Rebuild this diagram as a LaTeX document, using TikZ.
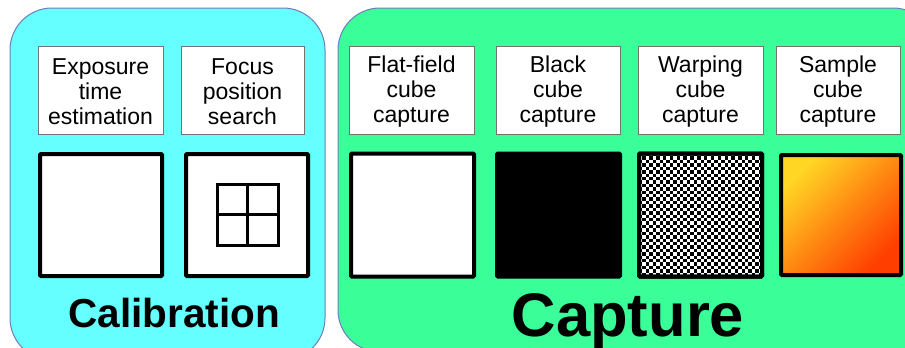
\documentclass[tikz,border=0pt]{standalone}
\usepackage{fontspec}
\setmainfont{Liberation Sans}
\definecolor{calibcyan}{RGB}{102,255,255}
\definecolor{capgreen}{RGB}{58,255,152}
\definecolor{panelline}{RGB}{110,125,190}
\definecolor{sampleA}{RGB}{255,214,36}
\definecolor{sampleB}{RGB}{255,150,12}
\definecolor{sampleC}{RGB}{255,62,0}
\begin{document}
\begin{tikzpicture}[x=1pt,y=-1pt,
  panel/.style={draw=panelline, line width=1pt, rounded corners=42pt},
  labelbox/.style={draw=black!55, line width=0.8pt, fill=white, minimum height=88pt,
    inner sep=0pt, align=center},
  labeltext/.style={align=center, inner sep=0pt, font=\fontsize{23}{25}\selectfont},
  frame/.style={draw=black, line width=4pt, minimum size=122pt, inner sep=0pt, rounded corners=1pt},
  title/.style={anchor=base, font=\bfseries}
]
\useasboundingbox (0,0) rectangle (905,348);
\clip (0,0) rectangle (905,348);
\fill[white] (0,0) rectangle (905,348);

% the two stage panels
\draw[panel, fill=calibcyan] (10,8) rectangle (325,360);
\draw[panel, fill=capgreen] (338,8) rectangle (935,352);

% step labels
\node[labelbox, minimum width=125pt] (lexp) at (100.5,90) {};
\node[labelbox, minimum width=123pt] (lfoc) at (242.5,90) {};
\node[labelbox, minimum width=125pt] (lflat) at (411.5,90) {};
\node[labelbox, minimum width=124pt] (lblack) at (558,90) {};
\node[labelbox, minimum width=125pt] (lwarp) at (700.5,90) {};
\node[labelbox, minimum width=124pt] (lsamp) at (838,90) {};
\foreach \lbl/\txt in {lexp/{Exposure\\time\\estimation}, lfoc/{Focus\\position\\search},
    lflat/{Flat-field\\cube\\capture}, lblack/{Black\\cube\\capture},
    lwarp/{Warping\\cube\\capture}, lsamp/{Sample\\cube\\capture}}
  \node[labeltext] (t\lbl) at ([yshift=-2pt]\lbl.center) {\txt};

% image frames
\node[frame, fill=white] (fexp) at (101,215) {};
\node[frame, fill=white] (ffoc) at (247,215) {};
\node[frame, fill=white, minimum size=123pt] (fflat) at (412.5,215) {};
\node[frame, fill=black, minimum size=123pt] (fblack) at (558.5,215) {};
\node[frame, fill=white, minimum size=123pt] (fwarp) at (700.5,215) {};
\node[frame, minimum size=120pt, left color=sampleA, middle color=sampleB,
  right color=sampleC, shading angle=45] (fsamp) at (841,215) {};

% focus grid
\draw[line width=3pt] (217,184) rectangle (278,245);
\draw[line width=3pt] (247.5,184) -- (247.5,245) (217,214.5) -- (278,214.5);

% checkerboard target
\begin{scope}
  \clip ([shift={(2,2)}]fwarp.north west) rectangle ([shift={(-2,-2)}]fwarp.south east);
  \foreach \i in {0,...,35} {
    \foreach \j in {0,...,35} {
      \pgfmathtruncatemacro{\cellpar}{mod(\i+\j,2)}
      \ifnum\cellpar=0
        \fill[black] ({639+\i*3.42},{153+\j*3.42}) rectangle ++(3.42,3.42);
      \fi
    }
  }
\end{scope}
\node[frame, minimum size=123pt] at (fwarp) {};

% stage titles
\node[title, font=\fontsize{40.5}{41}\bfseries\selectfont] (tcal) at (174,327) {Calibration};
\node[title, font=\fontsize{61.5}{62}\bfseries\selectfont] (tcap) at (628,336) {Capture};
\end{tikzpicture}
\end{document}
